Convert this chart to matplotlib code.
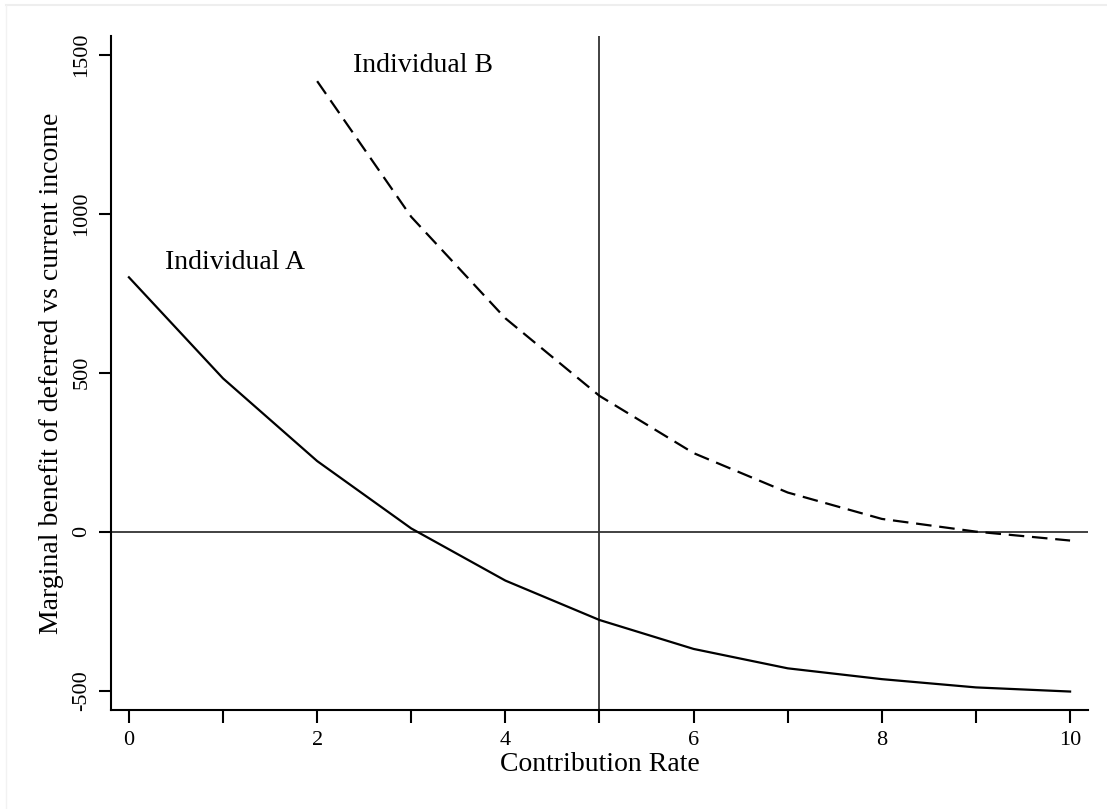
import matplotlib.pyplot as plt
from matplotlib.lines import Line2D

# contribution rate (percent)
rate_a = [0, 1, 2, 3, 4, 5, 6, 7, 8, 9, 10]
benefit_a = [800, 482, 222, 10, -154, -278, -369, -430, -464, -490, -503]

rate_b = [2, 3, 4, 5, 6, 7, 8, 9, 10]
benefit_b = [1417, 990, 671, 427, 247, 123, 40, 0, -28]

x_ticks = list(range(0, 11))
x_labels = [str(t) if t % 2 == 0 else '' for t in x_ticks]
y_ticks = [-500, 0, 500, 1000, 1500]

plt.rcParams['font.family'] = ['Liberation Serif', 'DejaVu Serif']

fig = plt.figure(figsize=(11.07, 8.09), dpi=100)
ax = fig.add_axes([0.1003, 0.1224, 0.8825, 0.8331])

# faint outline of the graph region (top and left edges only visible)
fig.lines.append(Line2D([0.0055, 1.0], [0.9938, 0.9938], transform=fig.transFigure,
                        color='#eeeeee', linewidth=1.5))
fig.lines.append(Line2D([0.0055, 0.0055], [0.0, 0.9938], transform=fig.transFigure,
                        color='#f2f2f2', linewidth=1.0))

ax.axhline(0, color='#333333', linewidth=1.3, zorder=1)
ax.axvline(5, color='#333333', linewidth=1.3, zorder=1)

ax.plot(rate_a, benefit_a, color='black', linewidth=1.6, zorder=2)
ax.plot(rate_b, benefit_b, color='black', linewidth=1.6, dashes=(7, 3.5), zorder=2)

ax.text(1.13, 845, 'Individual A', fontsize=20, ha='center', va='center')
ax.text(3.12, 1467, 'Individual B', fontsize=20, ha='center', va='center')

ax.set_xlim(-0.19, 10.19)
ax.set_ylim(-561, 1559)
ax.set_xticks(x_ticks)
ax.set_xticklabels(x_labels)
ax.set_yticks(y_ticks)
ax.set_yticklabels([str(t) for t in y_ticks], rotation=90, va='center')

ax.tick_params(axis='both', direction='out', length=9, width=1.5, labelsize=16)
ax.tick_params(axis='x', pad=6)
ax.tick_params(axis='y', pad=5)
ax.spines['top'].set_visible(False)
ax.spines['right'].set_visible(False)
ax.spines['left'].set_linewidth(1.5)
ax.spines['bottom'].set_linewidth(1.5)

ax.set_xlabel('Contribution Rate', fontsize=20, labelpad=1.5)
ax.set_ylabel('Marginal benefit of deferred vs current income', fontsize=20, labelpad=6)

fig.savefig('out.png', dpi=100)
